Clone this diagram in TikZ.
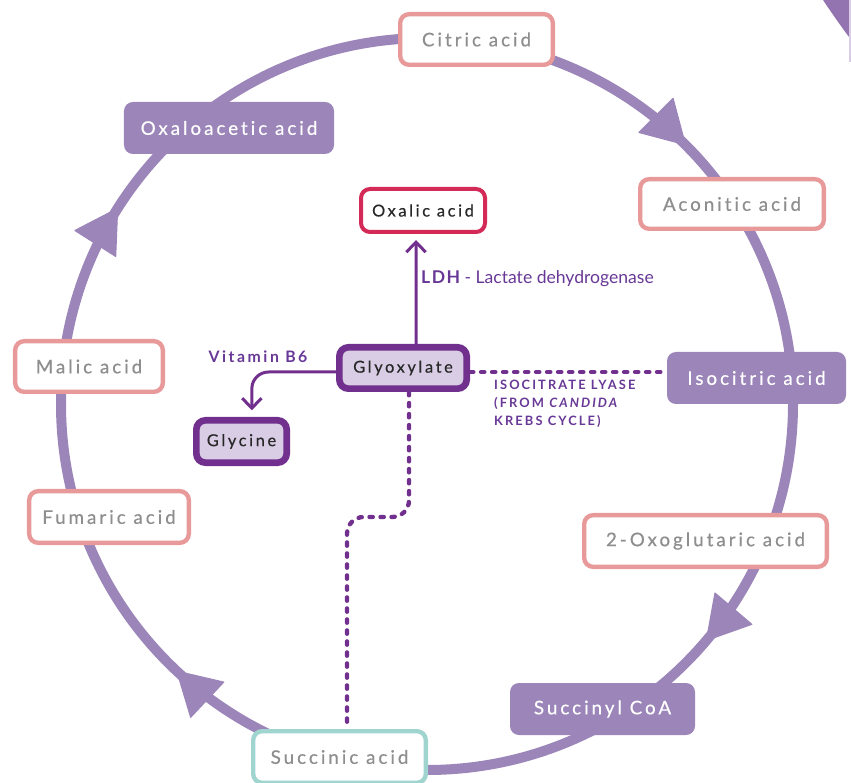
\documentclass[tikz,border=0pt]{standalone}
\usepackage{fontspec}
\setmainfont{Lato}[Ligatures={NoCommon}]
\newfontfamily\spaced{Lato}[LetterSpace=16, FakeBold=0.5, Ligatures={NoCommon, NoRequired, NoContextual}]
\newfontfamily\spacedbold{Lato Bold}[LetterSpace=16, Ligatures={NoCommon, NoRequired, NoContextual}]
\newfontfamily\tightbold{Lato Bold}[LetterSpace=8, Ligatures={NoCommon}]
\usetikzlibrary{arrows.meta, decorations.markings}

\definecolor{ringpurple}{RGB}{155,133,185}
\definecolor{acidpink}{RGB}{232,153,154}
\definecolor{oxalicred}{RGB}{212,42,87}
\definecolor{glydark}{RGB}{114,48,142}
\definecolor{glyfill}{RGB}{217,204,229}
\definecolor{succteal}{RGB}{160,212,207}
\definecolor{acidgray}{RGB}{142,142,142}
\definecolor{textdark}{RGB}{40,40,40}
\definecolor{lblpurple}{RGB}{104,56,150}

\begin{document}
\begin{tikzpicture}[
    x=0.03cm, y=0.03cm,
    cyclebox/.style={rectangle, rounded corners=0.27cm, line width=0.13cm, fill=white, inner sep=0pt, font=\spaced\fontsize{16}{18}\selectfont, text=acidgray},
    pinkbox/.style={cyclebox, draw=acidpink},
    tealbox/.style={cyclebox, draw=succteal},
    filledbox/.style={cyclebox, draw=none, fill=ringpurple, text=white},
    glybox/.style={rectangle, rounded corners=0.27cm, draw=glydark, line width=0.2cm, fill=glyfill, inner sep=0pt, font=\spaced\fontsize{14}{16}\selectfont, text=textdark},
    oxbox/.style={rectangle, rounded corners=0.27cm, draw=oxalicred, line width=0.12cm, fill=white, inner sep=0pt, font=\spaced\fontsize{14}{16}\selectfont, text=textdark},
    ring/.style={ringpurple, line width=0.3cm, postaction={decorate},
        decoration={markings,
            mark=at position 0.125 with {\arrow{Triangle[length=1.3cm, width=1.5cm, line width=1pt, round]}},
            mark=at position 0.362 with {\arrow{Triangle[length=1.3cm, width=1.5cm, line width=1pt, round]}},
            mark=at position 0.62 with {\arrow{Triangle[length=1.3cm, width=1.5cm, line width=1pt, round]}},
            mark=at position 0.84 with {\arrow{Triangle[length=1.3cm, width=1.5cm, line width=1pt, round]}}}},
    link/.style={glydark, line width=0.09cm},
    dotlink/.style={glydark, line width=0.13cm, dash pattern=on 0.1cm off 0.23cm, line cap=round},
    lbl/.style={text=lblpurple, inner sep=0pt}
]
\useasboundingbox (0,0) rectangle (851,782);
\clip (0,0) rectangle (851,782);

% Corner decoration
\fill[ringpurple!80!glydark] (823,782) .. controls (831,770) and (840,757) .. (849,745) -- (849,782) -- cycle;
\fill[glyfill] (849,782) rectangle (851,720);

% Cycle ring
\coordinate (hub) at (427,378);
\draw[ring] (hub) ++(90:366) arc[start angle=90, delta angle=-360, radius=366];

% Cycle acids
\node[pinkbox, minimum width=4.58cm, minimum height=1.52cm] (citric) at (476.5,742.5) {Citric acid};
\node[pinkbox, minimum width=5.51cm, minimum height=1.49cm] (aconitic) at (732,578) {Aconitic acid};
\node[filledbox, minimum width=5.37cm, minimum height=1.56cm] (isocitric) at (756.5,404) {Isocitric acid};
\node[pinkbox, minimum width=7.28cm, minimum height=1.55cm] (oxoglutaric) at (705.5,241) {2-Oxoglutaric acid};
\node[filledbox, minimum width=5.55cm, minimum height=1.56cm] (succinylcoa) at (602.5,73) {Succinyl CoA};
\node[tealbox, minimum width=5.18cm, minimum height=1.55cm] (succinic) at (339.5,25) {Succinic acid};
\node[pinkbox, minimum width=4.79cm, minimum height=1.55cm] (fumaric) at (109,265) {Fumaric acid};
\node[pinkbox, minimum width=4.43cm, minimum height=1.52cm] (malic) at (89,415.5) {Malic acid};
\node[filledbox, minimum width=6.3cm, minimum height=1.56cm] (oxaloacetic) at (229,654) {Oxaloacetic acid};

% Glyoxylate branch
\node[glybox, minimum width=3.82cm, minimum height=1.24cm] (glyoxylate) at (403,414) {Glyoxylate};
\node[oxbox, minimum width=3.72cm, minimum height=1.29cm] (oxalic) at (423,571.5) {Oxalic acid};
\node[glybox, minimum width=2.71cm, minimum height=1.27cm] (glycine) at (241.5,340.5) {Glycine};

% Labels
\node[lbl, anchor=west, font=\fontsize{15}{17}\selectfont] (ldh) at (421,503) {{\tightbold LDH} - Lactate dehydrogenase};
\node[lbl, font=\spacedbold\fontsize{13.5}{16}\selectfont] (vitb6) at (258,425) {Vitamin B6};
\node[lbl, anchor=north west, align=left, font=\spacedbold\fontsize{11}{15.5}\selectfont] (lyase) at (494,402) {ISOCITRATE LYASE\\(FROM \textit{CANDIDA}\\KREBS CYCLE)};

% Connections
\coordinate (dotkink) at (347,265);
\draw[link, -{Straight Barb[length=0.3cm, width=0.58cm]}, shorten >=0.18cm] ([xshift=0.39cm]glyoxylate.north) -- ([xshift=-0.21cm]oxalic.south);
\draw[link, -{Straight Barb[length=0.3cm, width=0.58cm]}, rounded corners=0.5cm, shorten >=0.2cm] ([yshift=-0.12cm]glyoxylate.west) -| ([xshift=0.31cm]glycine.north);
\draw[dotlink] (glyoxylate.east |- 0,410) -- (isocitric.west |- 0,410);
\draw[dotlink, rounded corners=0.5cm] ([xshift=0.18cm]glyoxylate.south) |- (dotkink) -- (succinic.north -| dotkink);

\end{tikzpicture}
\end{document}
